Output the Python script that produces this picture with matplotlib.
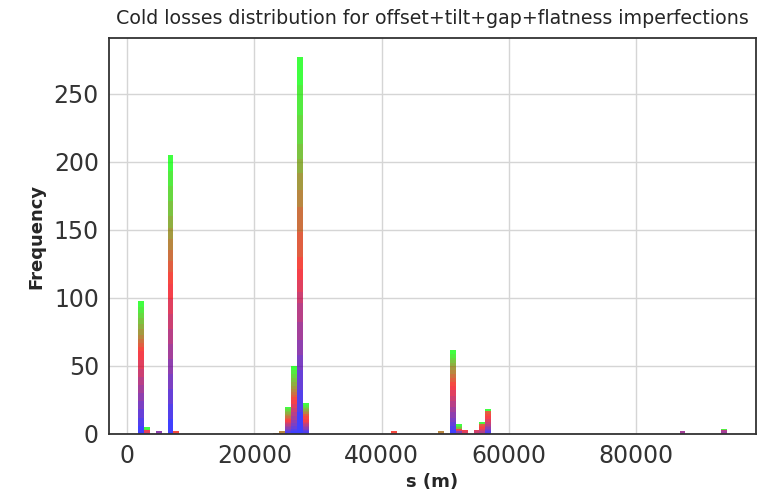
import numpy as np
import matplotlib
matplotlib.use("Agg")
import matplotlib.pyplot as plt

# histogram range (first and last loss position, m)
s_min = 1728
s_max = 94187
n_bins = 100

# loss positions (m) that carry counts, one per occupied bin
s_pos = [2190, 3115, 4964, 6813, 7738, 23456, 24380, 25305, 26230, 27154,
         28079, 41948, 49344, 51194, 52118, 53043, 54892, 55817, 56741,
         87253, 93725]

# counts at each position for the 20 seeds (seed 0 -> seed 19)
counts = [
    [6, 6, 6, 6, 6, 6, 6, 6, 6, 7, 3, 3, 3, 3, 4, 4, 4, 4, 4, 5],
    [0, 0, 0, 0, 1, 0, 0, 0, 1, 1, 0, 0, 0, 0, 0, 0, 0, 0, 1, 1],
    [0, 0, 1, 0, 1, 0, 0, 0, 0, 0, 0, 0, 0, 0, 0, 0, 0, 0, 0, 0],
    [11, 11, 11, 11, 11, 11, 11, 11, 11, 11, 9, 8, 8, 8, 8, 9, 11, 11, 11, 12],
    [0, 0, 0, 0, 0, 0, 0, 0, 0, 1, 1, 0, 0, 0, 0, 0, 0, 0, 0, 0],
    [0, 0, 0, 0, 0, 0, 0, 0, 0, 0, 0, 0, 0, 1, 0, 0, 0, 0, 0, 0],
    [0, 0, 0, 0, 0, 0, 0, 0, 0, 0, 0, 0, 1, 1, 0, 0, 0, 0, 0, 0],
    [1, 1, 1, 1, 1, 1, 1, 1, 1, 1, 1, 1, 1, 1, 1, 1, 1, 1, 1, 1],
    [2, 2, 2, 2, 2, 3, 3, 3, 3, 3, 2, 2, 2, 2, 2, 3, 3, 3, 3, 3],
    [16, 16, 15, 11, 11, 13, 14, 8, 9, 8, 9, 18, 19, 12, 13, 10, 11, 21, 22, 21],
    [1, 1, 1, 1, 1, 1, 1, 1, 1, 2, 2, 2, 0, 1, 1, 1, 1, 1, 1, 2],
    [0, 0, 0, 0, 0, 0, 0, 0, 0, 1, 1, 0, 0, 0, 0, 0, 0, 0, 0, 0],
    [0, 0, 0, 0, 0, 0, 0, 0, 0, 0, 0, 0, 1, 1, 0, 0, 0, 0, 0, 0],
    [3, 3, 3, 3, 4, 4, 4, 4, 4, 3, 3, 3, 3, 3, 3, 2, 2, 2, 3, 3],
    [1, 0, 0, 0, 1, 0, 0, 0, 1, 1, 0, 0, 0, 0, 0, 0, 1, 0, 1, 1],
    [0, 0, 0, 0, 0, 1, 0, 0, 1, 1, 0, 0, 0, 0, 0, 0, 0, 0, 0, 0],
    [0, 0, 0, 0, 0, 0, 1, 1, 1, 0, 0, 0, 0, 0, 0, 0, 0, 0, 0, 0],
    [0, 0, 0, 0, 0, 1, 1, 1, 1, 1, 1, 1, 0, 0, 0, 0, 0, 0, 1, 1],
    [1, 1, 1, 1, 1, 1, 1, 2, 2, 2, 2, 2, 0, 0, 0, 0, 0, 0, 0, 1],
    [0, 0, 0, 0, 1, 1, 0, 0, 0, 0, 0, 0, 0, 0, 0, 0, 0, 0, 0, 0],
    [0, 0, 0, 0, 1, 1, 1, 0, 0, 0, 0, 0, 0, 0, 0, 0, 0, 0, 1, 0],
]

n_seeds = len(counts[0])
weights = [[row[i] for row in counts] for i in range(n_seeds)]
xs = [s_pos] * n_seeds
colors = plt.get_cmap("brg")(np.linspace(0, 1, n_seeds))

fig = plt.figure(figsize=(7.58, 4.91), dpi=100)
ax = fig.add_axes([0.1434, 0.1161, 0.854, 0.8065])
ax.set_axisbelow(True)
ax.grid(True, color="#d5d5d5", linewidth=1.0)

ax.hist(xs, bins=n_bins, range=(s_min, s_max), weights=weights,
        stacked=True, color=colors, alpha=0.75)

for sp in ax.spines.values():
    sp.set_color("#333333")
    sp.set_linewidth(1.3)

ax.tick_params(length=0, labelsize=17, labelcolor="#333333", pad=7)
ax.set_title("Cold losses distribution for offset+tilt+gap+flatness imperfections",
             fontsize=13.7, color="#262626", pad=10)
ax.set_ylabel("Frequency", fontsize=13, fontweight="bold", color="#262626", labelpad=6)
ax.set_xlabel("s (m)", fontsize=13, fontweight="bold", color="#262626", labelpad=4)

fig.savefig("out.png", dpi=100)
